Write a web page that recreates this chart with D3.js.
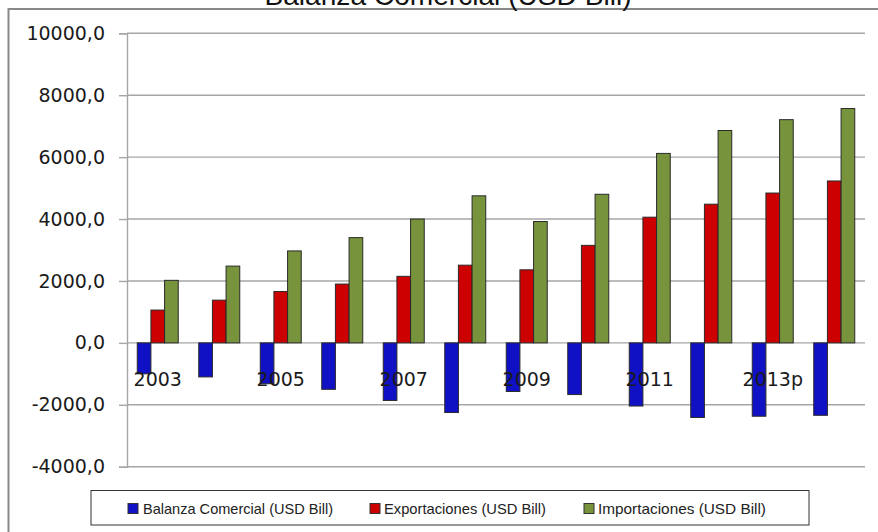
<!DOCTYPE html>
<html>
<head>
<meta charset="utf-8">
<script src="https://cdn.jsdelivr.net/npm/d3@7"></script>
<style>
  html, body { margin: 0; padding: 0; background: #fff; }
  svg { display: block; }
</style>
</head>
<body>
<svg id="chart" width="878" height="532"></svg>
<script>
// ---- data ----
const categories = ["2003","2004","2005","2006","2007","2008","2009","2010","2011","2012","2013p","2014p"];
const shownCategoryLabels = ["2003","2005","2007","2009","2011","2013p"];
const seriesNames = ["Balanza Comercial (USD Bill)", "Exportaciones (USD Bill)", "Importaciones (USD Bill)"];
const balanza      = [-1000, -1100, -1320, -1500, -1860, -2250, -1570, -1670, -2040, -2410, -2370, -2340];
const exportaciones = [1060, 1380, 1660, 1900, 2150, 2510, 2360, 3150, 4060, 4480, 4840, 5230];
const importaciones = [2020, 2480, 2970, 3400, 4000, 4750, 3920, 4800, 6120, 6860, 7210, 7570];
const yTicks = [-4000, -2000, 0, 2000, 4000, 6000, 8000, 10000];
const title = "Balanza Comercial (USD Bill)";
const colors = ["#1010C4", "#CC0000", "#77933C"];

const seriesValues = [balanza, exportaciones, importaciones];

// ---- layout ----
const svg = d3.select("#chart");
const plot = { left: 127, right: 865, top: 33.3, bottom: 466.7 };

const locale = d3.formatLocale({ decimal: ",", thousands: "", grouping: [3], currency: ["", ""], minus: "-" });
const fmt = locale.format(".1f");

const y = d3.scaleLinear().domain([-4000, 10000]).range([plot.bottom, plot.top]);
const x0 = d3.scaleBand().domain(categories).range([plot.left, plot.right]).padding(0);
const x1 = d3.scaleBand().domain(d3.range(seriesNames.length))
  .range([0, x0.bandwidth()]).paddingInner(0).paddingOuter(0.75);

// outer frame (partially visible)
svg.append("rect")
  .attr("x", 8.5).attr("y", 9).attr("width", 900).attr("height", 560)
  .attr("fill", "none").attr("stroke", "#888").attr("stroke-width", 2);

// title (mostly cut off at top)
svg.append("text")
  .attr("x", 448).attr("y", 4.5)
  .attr("text-anchor", "middle")
  .attr("font-family", "Liberation Sans, Arial, sans-serif")
  .attr("font-size", 27)
  .attr("fill", "#111")
  .attr("textLength", 367)
  .attr("lengthAdjust", "spacingAndGlyphs")
  .text(title);

// gridlines
svg.append("g")
  .selectAll("line")
  .data(yTicks)
  .join("line")
  .attr("x1", plot.left).attr("x2", plot.right)
  .attr("y1", d => y(d)).attr("y2", d => y(d))
  .attr("stroke", "#A6A6A6").attr("stroke-width", 1.4);

// y axis
const yAxis = svg.append("g")
  .attr("transform", `translate(${plot.left},0)`)
  .call(d3.axisLeft(y).tickValues(yTicks).tickFormat(fmt).tickSize(8).tickPadding(14));
yAxis.select(".domain").attr("stroke", "#A6A6A6").attr("stroke-width", 1.4);
yAxis.selectAll(".tick line").attr("stroke", "#A6A6A6").attr("stroke-width", 1.4);
yAxis.selectAll(".tick text")
  .attr("font-family", "DejaVu Sans, sans-serif")
  .attr("font-size", 19)
  .attr("fill", "#1a1a1a");

// bars
const groups = svg.append("g")
  .selectAll("g")
  .data(seriesValues)
  .join("g")
  .attr("fill", (d, i) => colors[i]);

groups.each(function(vals, si) {
  d3.select(this).selectAll("rect")
    .data(vals)
    .join("rect")
    .attr("x", (v, ci) => x0(categories[ci]) + x1(si))
    .attr("width", x1.bandwidth())
    .attr("y", v => Math.min(y(v), y(0)))
    .attr("height", v => Math.abs(y(v) - y(0)))
    .attr("stroke", "#2a2a2a")
    .attr("stroke-width", 1);
});

// category axis labels (at zero line, offset below)
const xAxis = svg.append("g")
  .attr("transform", `translate(0,${y(0)})`)
  .call(d3.axisBottom(x0).tickValues(shownCategoryLabels.map(l => categories.find(c => c === l))).tickSize(0).tickPadding(30));
xAxis.select(".domain").remove();
xAxis.selectAll(".tick text")
  .attr("font-family", "DejaVu Sans, sans-serif")
  .attr("font-size", 19)
  .attr("fill", "#1a1a1a");

// legend
const legend = svg.append("g");
legend.append("rect")
  .attr("x", 91).attr("y", 490.5).attr("width", 718).attr("height", 34.5)
  .attr("fill", "#fff").attr("stroke", "#333").attr("stroke-width", 1);

const legendItems = [
  { swatchX: 128, textX: 143, textW: 190 },
  { swatchX: 370, textX: 384, textW: 162 },
  { swatchX: 584, textX: 598, textW: 168 }
];
legend.selectAll("g.item")
  .data(seriesNames)
  .join("g")
  .attr("class", "item")
  .each(function(name, i) {
    const g = d3.select(this);
    const it = legendItems[i];
    g.append("rect")
      .attr("x", it.swatchX).attr("y", 503.5).attr("width", 10).attr("height", 10)
      .attr("fill", colors[i]).attr("stroke", "#333").attr("stroke-width", 1);
    g.append("text")
      .attr("x", it.textX).attr("y", 513.5)
      .attr("font-family", "Liberation Sans, Arial, sans-serif")
      .attr("font-size", 14.5)
      .attr("fill", "#222")
      .attr("textLength", it.textW)
      .attr("lengthAdjust", "spacingAndGlyphs")
      .text(name);
  });
</script>
</body>
</html>
